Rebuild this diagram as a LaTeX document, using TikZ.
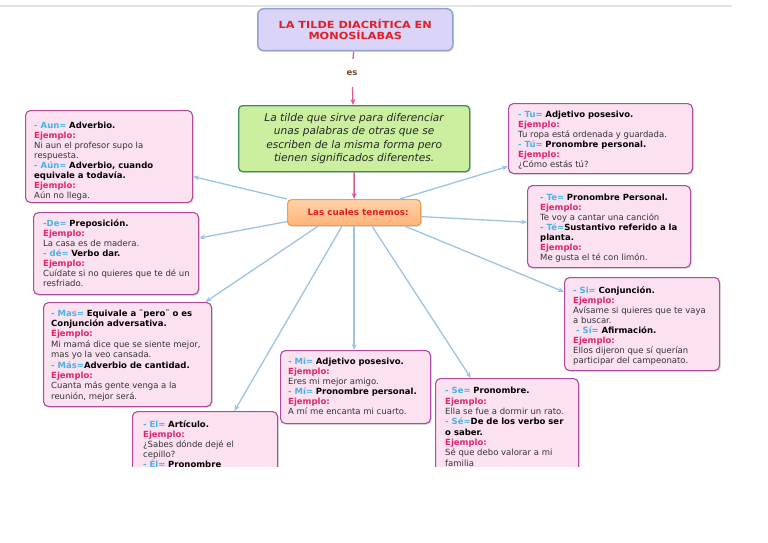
\documentclass[tikz,border=0pt]{standalone}
\usepackage{fontspec}
\setmainfont{DejaVu Sans}
\usetikzlibrary{shadows,arrows.meta}
\definecolor{lblue}{HTML}{45B3EA}
\definecolor{ejem}{HTML}{E3246E}
\definecolor{pinkfill}{HTML}{FCE1F1}
\definecolor{pinkdraw}{HTML}{B04A9E}
\definecolor{connc}{HTML}{9CC4E6}
\definecolor{pinkline}{HTML}{E5588F}
\definecolor{greenfill}{HTML}{CBEF9F}
\definecolor{greendraw}{HTML}{418A5E}
\definecolor{otop}{HTML}{FFD3A8}
\definecolor{obot}{HTML}{FFB478}
\definecolor{orangedraw}{HTML}{EE9E52}
\definecolor{titlefill}{HTML}{DAD5F8}
\definecolor{titledraw}{HTML}{8EA2D8}
\definecolor{titletext}{HTML}{E21F26}
\definecolor{estext}{HTML}{7B4B22}
\definecolor{bodytext}{HTML}{333333}
\newcommand\lb[1]{{\bfseries\color{lblue}#1}}
\newcommand\ejm{{\bfseries\color{ejem}Ejemplo:}}
\newcommand\bd[1]{{\bfseries\color{black}#1}}
\tikzset{
  pbox/.style={draw=pinkdraw, line width=1.1pt, fill=pinkfill, rounded corners=5pt,
    inner sep=0pt, anchor=north west,
    drop shadow={shadow xshift=1.2pt, shadow yshift=-1.2pt, opacity=0.25}},
  ptext/.style={anchor=north west, inner sep=0pt, align=left,
    font=\fontsize{8.5}{10}\selectfont, text=bodytext},
  conn/.style={draw=connc, line width=1.3pt, -{Stealth[length=6pt,width=5pt]}},
  pconn/.style={draw=pinkline, line width=1.3pt},
}
\begin{document}
\begin{tikzpicture}[x=1pt,y=-1pt]
\useasboundingbox[fill=white] (0,0) rectangle (768,543);
\draw[gray!22, line width=2.5pt] (0,6) -- (732,6);
\begin{scope}
\clip (0,0) rectangle (768,466);
% title
\node[draw=titledraw, line width=1.5pt, fill=titlefill, rounded corners=6pt,
  anchor=north west, minimum width=195pt, minimum height=42pt, inner sep=0pt,
  align=center, text=titletext, font=\bfseries\fontsize{9.8}{10.5}\selectfont,
  drop shadow={shadow xshift=1.2pt, shadow yshift=-1.2pt, opacity=0.2}]
  (title) at (257,8) {\scalebox{1.15}[1]{LA TILDE DIACRÍTICA EN}\\\scalebox{1.15}[1]{MONOSÍLABAS}};
\node[inner sep=0pt, minimum height=28pt, text=estext, font=\bfseries\fontsize{8.5}{10}\selectfont]
  (es) at (352,73) {es};
% definition
\node[draw=greendraw, line width=1.3pt, fill=greenfill, rounded corners=4pt,
  anchor=north west, minimum width=231pt, minimum height=66pt, inner sep=0pt,
  align=center, text=black!85, font=\itshape\fontsize{10.6}{13.2}\selectfont,
  drop shadow={shadow xshift=1.2pt, shadow yshift=-1.2pt, opacity=0.25}]
  (def) at (238,105) {La tilde que sirve para diferenciar\\unas palabras de otras que se\\escriben de la misma forma pero\\tienen significados diferentes.};
\node[draw=orangedraw, line width=1.2pt, top color=otop, bottom color=obot, rounded corners=4pt,
  anchor=north west, minimum width=133pt, minimum height=26pt, inner sep=0pt,
  text=titletext, font=\bfseries\fontsize{8.8}{10}\selectfont,
  drop shadow={shadow xshift=1.2pt, shadow yshift=-1.2pt, opacity=0.25}]
  (las) at (287,199) {\hspace*{8pt}Las cuales tenemos:};
\draw[pconn] (title) -- (es);
\draw[pconn, -{Stealth[length=6pt,width=5pt]}] (es) -- (def);
\draw[pconn, -{Stealth[length=6pt,width=5pt]}] (def) -- (las);
% boxes
\node[pbox, minimum width=167pt, minimum height=92pt] (aun) at (25,110) {};
\node[ptext] (aunT) at ([shift={(9,12.3)}]aun.north west) {\lb{- Aun=} \bd{Adverbio.}\\
\ejm\\
Ni aun el profesor supo la\\
respuesta.\\
\lb{- Aún=} \bd{Adverbio, cuando}\\
\bd{equivale a todavía.}\\
\ejm\\
Aún no llega.};
\node[pbox, minimum width=165pt, minimum height=82pt] (de) at (33,212) {};
\node[ptext] (deT) at ([shift={(10,7.3)}]de.north west) {\lb{-De=} \bd{Preposición.}\\
\ejm\\
La casa es de madera.\\
\lb{- dé=} \bd{Verbo dar.}\\
\ejm\\
Cuídate si no quieres que te dé un\\
resfriado.};
\node[pbox, minimum width=168pt, minimum height=104pt] (mas) at (43,302) {};
\node[ptext, font=\fontsize{8.5}{10.4}\selectfont] (masT) at ([shift={(8,7.3)}]mas.north west) {\lb{- Mas=} \bd{Equivale a ¨pero¨ o es}\\
\bd{Conjunción adversativa.}\\
\ejm\\
Mi mamá dice que se siente mejor,\\
mas yo la veo cansada.\\
\lb{- Más=}\bd{Adverbio de cantidad.}\\
\ejm\\
Cuanta más gente venga a la\\
reunión, mejor será.};
\node[pbox, minimum width=184pt, minimum height=70pt] (tu) at (508,103) {};
\node[ptext] (tuT) at ([shift={(10,8.3)}]tu.north west) {\lb{- Tu=} \bd{Adjetivo posesivo.}\\
\ejm\\
Tu ropa está ordenada y guardada.\\
\lb{- Tú=} \bd{Pronombre personal.}\\
\ejm\\
¿Cómo estás tú?};
\node[pbox, minimum width=163pt, minimum height=82pt] (te) at (527,185) {};
\node[ptext] (teT) at ([shift={(13,9.3)}]te.north west) {\lb{- Te=} \bd{Pronombre Personal.}\\
\ejm\\
Te voy a cantar una canción\\
\lb{- Té=}\bd{Sustantivo referido a la}\\
\bd{planta.}\\
\ejm\\
Me gusta el té con limón.};
\node[pbox, minimum width=155pt, minimum height=93pt] (si) at (564,277) {};
\node[ptext] (siT) at ([shift={(9,9.3)}]si.north west) {\lb{- Si=} \bd{Conjunción.}\\
\ejm\\
Avísame si quieres que te vaya\\
a buscar.\\
\hspace*{3pt}\lb{- Sí=} \bd{Afirmación.}\\
\ejm\\
Ellos dijeron que sí querían\\
participar del campeonato.};
\node[pbox, minimum width=150pt, minimum height=73pt] (mi) at (280,350) {};
\node[ptext] (miT) at ([shift={(8,8.3)}]mi.north west) {\lb{- Mi=} \bd{Adjetivo posesivo.}\\
\ejm\\
Eres mi mejor amigo.\\
\lb{- Mí=} \bd{Pronombre personal.}\\
\ejm\\
A mí me encanta mi cuarto.};
\node[pbox, minimum width=143pt, minimum height=110pt] (se) at (435,378) {};
\node[ptext, font=\fontsize{8.5}{10.3}\selectfont] (seT) at ([shift={(10,9.3)}]se.north west) {\lb{- Se=} \bd{Pronombre.}\\
\ejm\\
Ella se fue a dormir un rato.\\
\lb{- Sé=}\bd{De de los verbo ser}\\
\bd{o saber.}\\
\ejm\\
Sé que debo valorar a mi\\
familia};
\node[pbox, minimum width=145pt, minimum height=100pt] (el) at (132,411) {};
\node[ptext] (elT) at ([shift={(11,9.3)}]el.north west) {\lb{- El=} \bd{Artículo.}\\
\ejm\\
¿Sabes dónde dejé el\\
cepillo?\\
\lb{- Él=} \bd{Pronombre}};
% connectors
\draw[conn] (las.north west) -- (aun);
\draw[conn] ([yshift=-9pt]las.west) -- (de);
\draw[conn] ([xshift=31pt]las.south west) -- (mas);
\draw[conn] ([xshift=55pt]las.south west) -- (el);
\draw[conn] (las.south) -- (las.south |- mi.north);
\draw[conn] ([xshift=85pt]las.south west) -- (se);
\draw[conn] ([xshift=118pt]las.south west) -- (si);
\draw[conn] ([yshift=-4pt]las.east) -- (te);
\draw[conn] ([xshift=113pt]las.north west) -- (tu);
\end{scope}
\end{tikzpicture}
\end{document}
